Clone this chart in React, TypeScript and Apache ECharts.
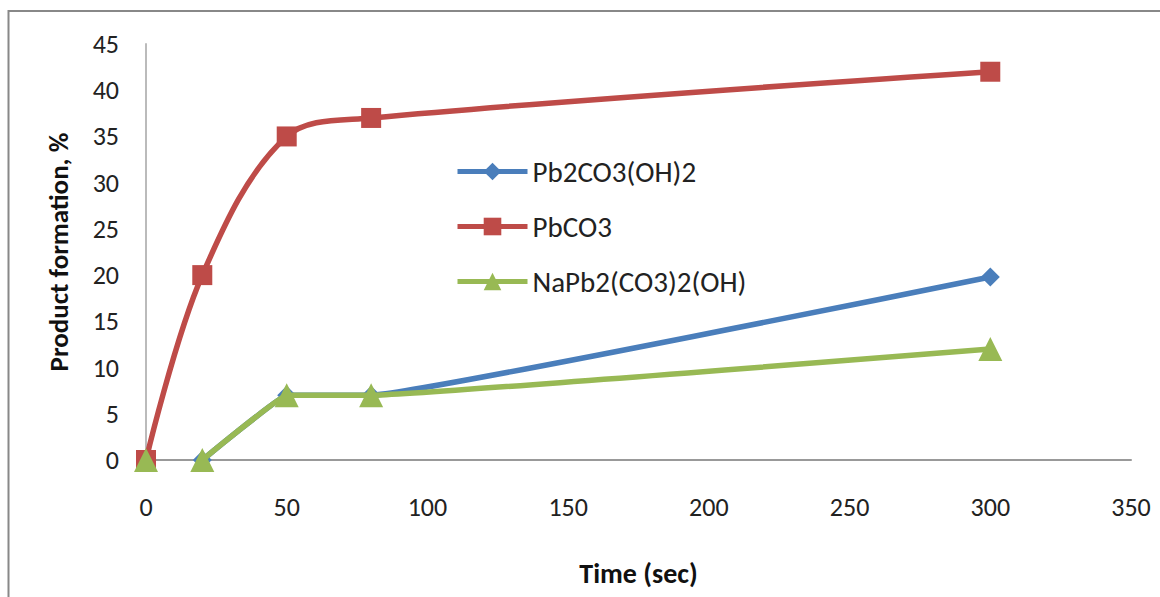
import React, { useEffect, useRef } from "react";
import * as echarts from "echarts";

const seriesNames = ["Pb2CO3(OH)2", "PbCO3", "NaPb2(CO3)2(OH)"];
const pb2Data: [number, number][] = [[20, 0], [50, 7], [80, 7], [300, 19.8]];
const pbco3Data: [number, number][] = [[0, 0], [20, 20], [50, 35], [80, 37], [300, 42]];
const naData: ([number, number] | string)[] = [[0, 0], "-", [20, 0], [50, 7], [80, 7], [300, 12]];
const colors = ["#4A7EBB", "#BE4B48", "#98B954"];
const markers = ["diamond", "rect", "triangle"];

export default function App() {
  const ref = useRef<HTMLDivElement>(null);
  useEffect(() => {
    document.body.style.margin = "0";
    const chart = echarts.init(ref.current!, null, { renderer: "svg" });
    const font = "Carlito, 'Open Sans', Lato, sans-serif";
    const datas = [pb2Data, pbco3Data, naData];
    chart.setOption({
      animation: false,
      backgroundColor: "#fff",
      textStyle: { fontFamily: font },
      grid: { left: 146, right: 29, top: 44, bottom: 137, containLabel: false },
      xAxis: {
        type: "value",
        min: 0,
        max: 350,
        interval: 50,
        name: "Time (sec)",
        nameLocation: "middle",
        nameGap: 99,
        nameTextStyle: { fontSize: 28, fontWeight: "bold", color: "#111", fontFamily: font },
        axisLine: { show: true, lineStyle: { color: "#999", width: 2 } },
        axisTick: { show: false },
        splitLine: { show: false },
        axisLabel: { fontSize: 26, color: "#222", margin: 34, fontFamily: font },
      },
      yAxis: {
        type: "value",
        min: 0,
        max: 45,
        interval: 5,
        name: "Product formation, %",
        nameLocation: "middle",
        nameGap: 74,
        nameTextStyle: { fontSize: 27, fontWeight: "bold", color: "#111", fontFamily: font },
        axisLine: { show: true, lineStyle: { color: "#bbb", width: 2 } },
        axisTick: { show: false },
        splitLine: { show: false },
        axisLabel: { fontSize: 26, color: "#222", margin: 27, fontFamily: font },
      },
      legend: {
        orient: "vertical",
        left: 450,
        top: 152,
        itemGap: 26,
        itemWidth: 70,
        itemHeight: 22,
        lineStyle: { width: 5 },
        textStyle: { fontSize: 29, color: "#222", fontFamily: font, padding: [0, 0, 0, 0] },
        data: seriesNames,
      },
      series: seriesNames.map((name, i) => ({
        name,
        type: "line",
        data: datas[i],
        smooth: i === 1 ? 0.35 : 0.06,
        connectNulls: false,
        symbol: markers[i],
        symbolSize: i === 1 ? 20 : i === 0 ? 19 : 24,
        showAllSymbol: true,
        itemStyle: { color: colors[i] },
        lineStyle: { color: colors[i], width: 5.5 },
        z: i === 2 ? 4 : i === 0 ? 3 : 2,
      })),
      graphic: [
        {
          type: "polyline",
          shape: { points: [[8.5, 600], [8.5, 11], [1165, 11]] },
          style: { stroke: "#888", lineWidth: 2, fill: "none" },
          silent: true,
        },
      ],
    });
    return () => chart.dispose();
  }, []);
  return <div ref={ref} style={{ width: 1160, height: 597 }} />;
}
